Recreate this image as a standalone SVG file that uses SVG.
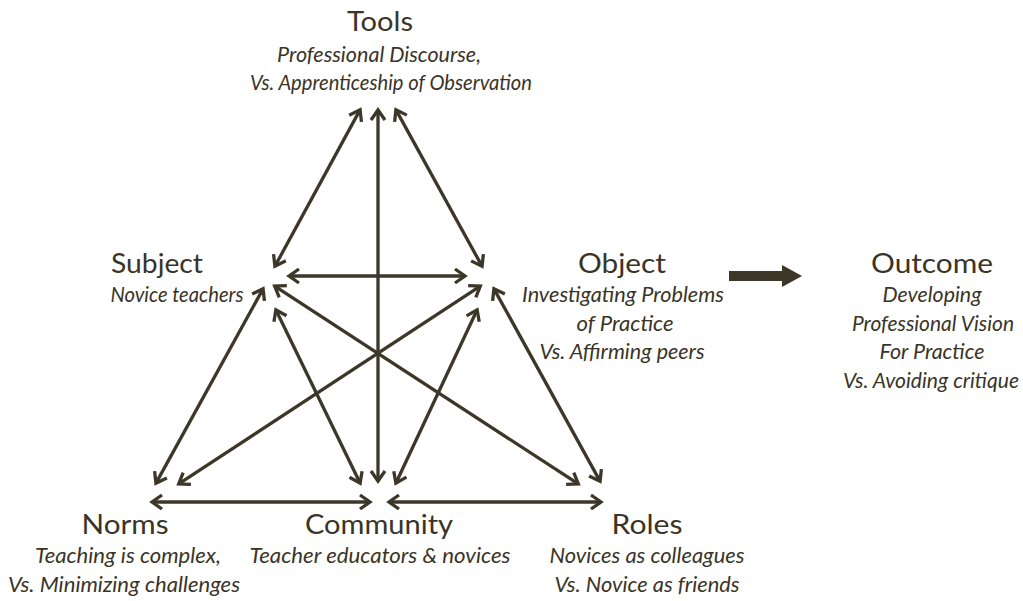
<svg xmlns="http://www.w3.org/2000/svg" width="1023" height="601" viewBox="0 0 1023 601">
<defs>
<style>
.t{font-family:Lato,"Open Sans","Liberation Sans",sans-serif;font-size:27px;fill:#3a3427;text-anchor:middle}
.s{font-family:Lato,"Open Sans","Liberation Sans",sans-serif;font-size:20.5px;font-style:italic;fill:#3a3427;text-anchor:middle}
.c line{stroke:#3d3729;stroke-width:3.3;fill:none;marker-start:url(#ah);marker-end:url(#ah)}
</style>
<marker id="ah" markerUnits="userSpaceOnUse" markerWidth="20" markerHeight="20" refX="0" refY="0" orient="auto-start-reverse" overflow="visible">
<path d="M-9,-7 L1,0 L-9,7" fill="none" stroke="#3d3729" stroke-width="3.3" stroke-linejoin="miter"/>
</marker>
</defs>
<rect width="1023" height="601" fill="#ffffff"/>
<g id="connectors" class="c">
<line x1="359.6" y1="110.6" x2="275.4" y2="265.4"/>
<line x1="378" y1="111" x2="378" y2="480"/>
<line x1="396.4" y1="110.6" x2="481.6" y2="265.4"/>
<line x1="290" y1="276" x2="464" y2="276"/>
<line x1="262.6" y1="289.6" x2="156.4" y2="482.4"/>
<line x1="275.5" y1="286.6" x2="577.5" y2="483.4"/>
<line x1="276.3" y1="310.7" x2="359.7" y2="482.3"/>
<line x1="479.5" y1="286.6" x2="179.5" y2="483.4"/>
<line x1="476.7" y1="310.7" x2="396.3" y2="482.3"/>
<line x1="494.4" y1="289.6" x2="599.6" y2="480.4"/>
<line x1="153" y1="502" x2="369" y2="502"/>
<line x1="390" y1="502" x2="600" y2="502"/>
<polygon points="729,271 782,271 782,265 802,276 782,287 782,281 729,281" fill="#3d3729"/>
</g>
<g id="tools">
<text class="t" x="380" y="31" textLength="66" lengthAdjust="spacingAndGlyphs">Tools</text>
<text class="s" x="379" y="62" textLength="204" lengthAdjust="spacingAndGlyphs">Professional Discourse,</text>
<text class="s" x="391" y="90" textLength="282" lengthAdjust="spacingAndGlyphs">Vs. Apprenticeship of Observation</text>
</g>
<g id="subject">
<text class="t" x="157" y="273" textLength="92" lengthAdjust="spacingAndGlyphs">Subject</text>
<text class="s" x="177" y="302" textLength="133" lengthAdjust="spacingAndGlyphs">Novice teachers</text>
</g>
<g id="object">
<text class="t" x="622" y="273" textLength="88" lengthAdjust="spacingAndGlyphs">Object</text>
<text class="s" x="623" y="302" textLength="202" lengthAdjust="spacingAndGlyphs">Investigating Problems</text>
<text class="s" x="625" y="331" textLength="97" lengthAdjust="spacingAndGlyphs">of Practice</text>
<text class="s" x="622" y="359" textLength="165" lengthAdjust="spacingAndGlyphs">Vs. Affirming peers</text>
</g>
<g id="outcome">
<text class="t" x="932" y="273" textLength="122" lengthAdjust="spacingAndGlyphs">Outcome</text>
<text class="s" x="932" y="302" textLength="99" lengthAdjust="spacingAndGlyphs">Developing</text>
<text class="s" x="933" y="331" textLength="162" lengthAdjust="spacingAndGlyphs">Professional Vision</text>
<text class="s" x="932" y="359" textLength="105" lengthAdjust="spacingAndGlyphs">For Practice</text>
<text class="s" x="931" y="388" textLength="176" lengthAdjust="spacingAndGlyphs">Vs. Avoiding critique</text>
</g>
<g id="norms">
<text class="t" x="125" y="534" textLength="87" lengthAdjust="spacingAndGlyphs">Norms</text>
<text class="s" x="128" y="563" textLength="186" lengthAdjust="spacingAndGlyphs">Teaching is complex,</text>
<text class="s" x="124" y="592" textLength="232" lengthAdjust="spacingAndGlyphs">Vs. Minimizing challenges</text>
</g>
<g id="community">
<text class="t" x="379" y="534" textLength="148" lengthAdjust="spacingAndGlyphs">Community</text>
<text class="s" x="380" y="563" textLength="261" lengthAdjust="spacingAndGlyphs">Teacher educators &amp; novices</text>
</g>
<g id="roles">
<text class="t" x="647" y="534" textLength="71" lengthAdjust="spacingAndGlyphs">Roles</text>
<text class="s" x="647" y="563" textLength="195" lengthAdjust="spacingAndGlyphs">Novices as colleagues</text>
<text class="s" x="647" y="592" textLength="185" lengthAdjust="spacingAndGlyphs">Vs. Novice as friends</text>
</g>
</svg>
